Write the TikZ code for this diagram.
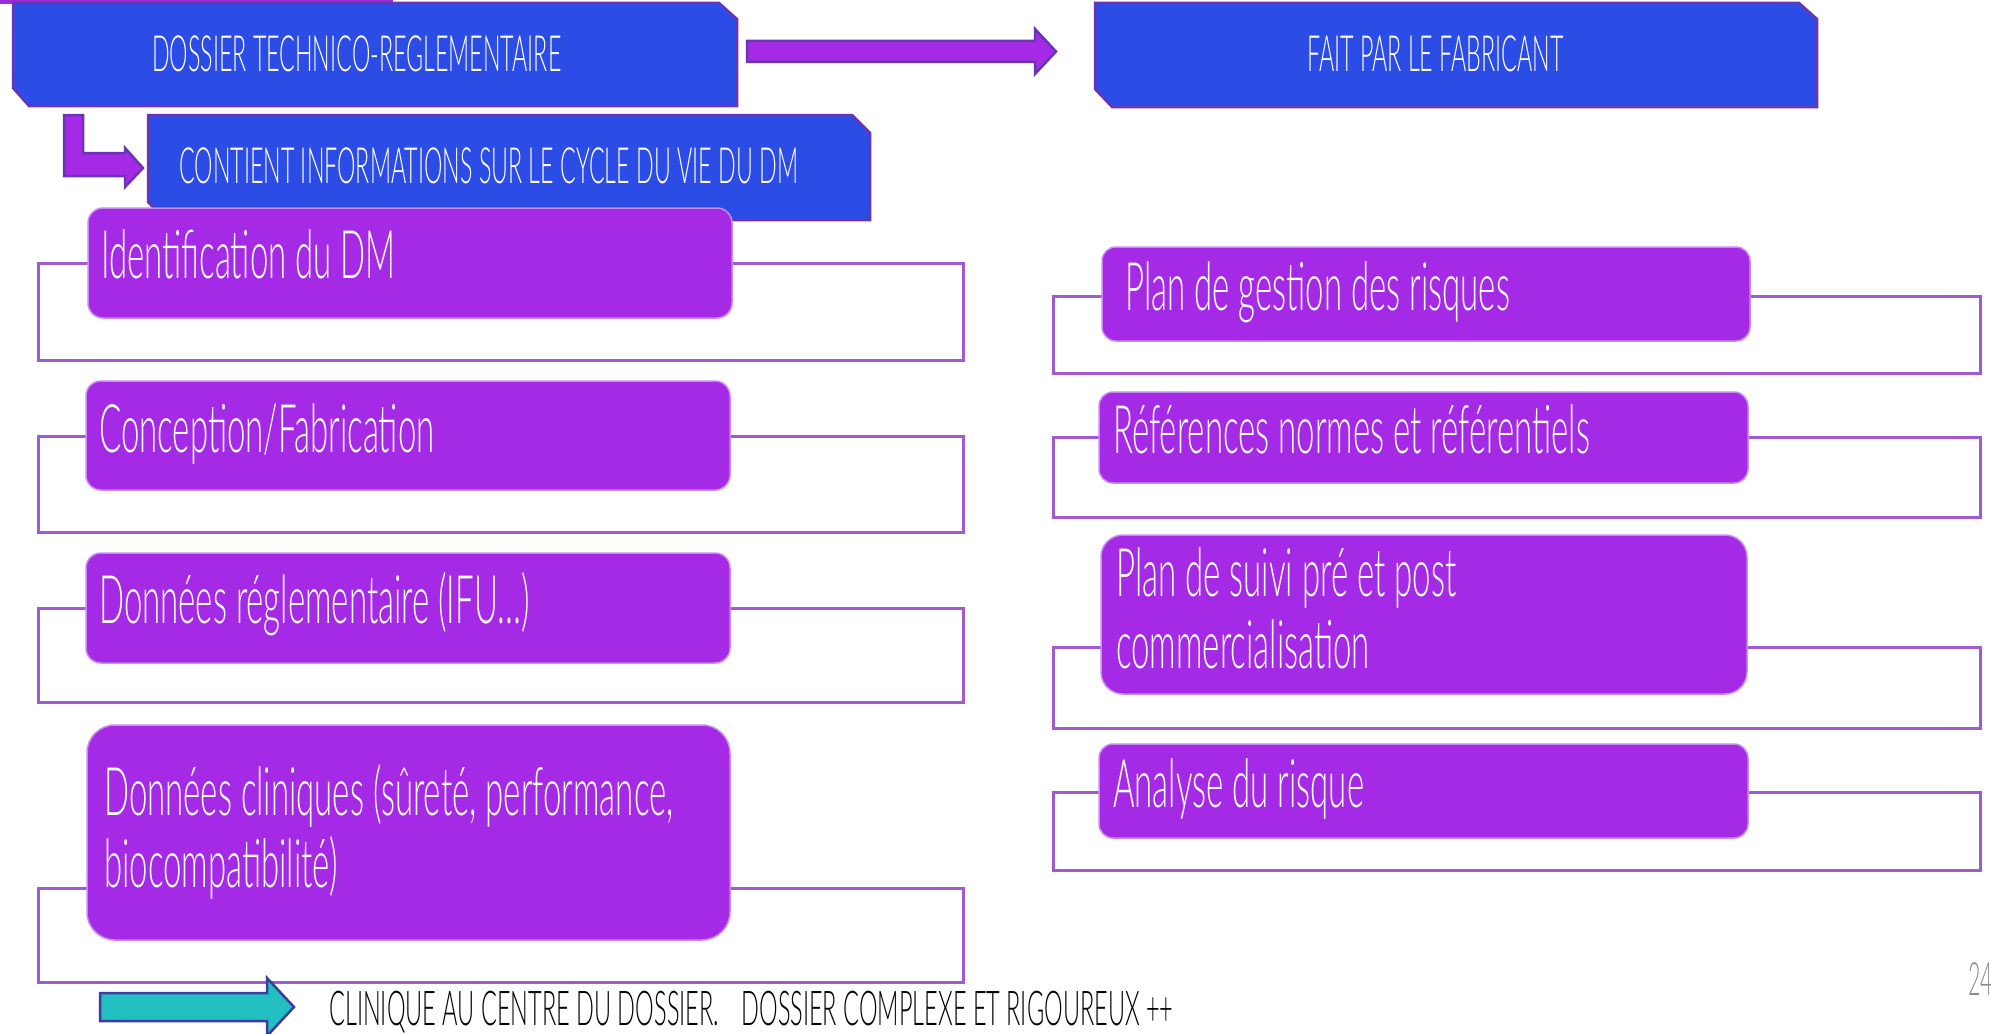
\documentclass[tikz,border=0pt]{standalone}
\usepackage{fontspec}
\setmainfont{Lato}
\newfontfamily\cf{Lato Light}[FakeStretch=0.465]
\newfontfamily\lf{Lato Light}[FakeStretch=0.492]
\newfontfamily\nf{Lato Light}[FakeStretch=0.49]
\definecolor{bfill}{HTML}{2C4CE6}
\definecolor{bdraw}{HTML}{6A34B4}
\definecolor{pfill}{HTML}{A52AE6}
\definecolor{pedge}{HTML}{C98AF2}
\definecolor{oline}{HTML}{A05AD2}
\definecolor{tfill}{HTML}{22BFC0}
\definecolor{tdraw}{HTML}{3A3C9E}
\definecolor{strip}{HTML}{9B2BD6}
\begin{document}
\begin{tikzpicture}[x=1pt,y=-1pt,
  bluebox/.style={fill=bfill, draw=bdraw, line width=2.5pt},
  blockarrow/.style={fill=pfill, draw=bdraw, line width=2.5pt},
  tealarrow/.style={fill=tfill, draw=tdraw, line width=2.5pt},
  pbox/.style={rectangle, fill=pfill, draw=pedge, line width=1.5pt, inner sep=0pt},
  outl/.style={draw=oline, line width=3pt},
  btext/.style={text=white, inner sep=0pt, anchor=base west, font=\cf\fontsize{50}{60}\selectfont},
  wtext/.style={text=white, inner sep=0pt, anchor=base west, align=left, font=\lf\fontsize{67}{72}\selectfont},
]
\useasboundingbox (0,0) rectangle (1991,1033);
\clip (0,0) rectangle (1991,1033);
\fill[white] (0,0) rectangle (1991,1033);

% top strip
\fill[strip] (0,0) rectangle (393,4);

% blue boxes
\draw[bluebox] (13,3) -- (719,3) -- (737,19) -- (737,106) -- (29,106) -- (13,88) -- cycle;
\node[btext] (dossier) at (152,71) {DOSSIER TECHNICO-REGLEMENTAIRE};

\draw[bluebox] (1095,3) -- (1799,3) -- (1817,19) -- (1817,107) -- (1112,107) -- (1095,89) -- cycle;
\node[btext] (fabricant) at (1307,71) {FAIT PAR LE FABRICANT};

% big arrow
\coordinate (a1) at (747,41);
\draw[blockarrow] (a1) -- (1035,41) -- (1035,29) -- (1056,51.5) -- (1035,74) -- (1035,62) -- (747,62) -- cycle;

% L arrow
\coordinate (l1) at (64,115);
\draw[blockarrow] (l1) -- (83,115) -- (83,153) -- (125,153) -- (125,148) -- (143,168) -- (125,187) -- (125,176) -- (64,176) -- cycle;

\draw[bluebox] (148,115) -- (852,115) -- (870,133) -- (870,220) -- (166,220) -- (148,202) -- cycle;
\node[btext] (contient) at (179,183) {CONTIENT INFORMATIONS SUR LE CYCLE DU VIE DU DM};

% outline brackets
\draw[outl] (38,263) rectangle (963,360);
\draw[outl] (38,436) rectangle (963,532);
\draw[outl] (38,608) rectangle (963,702);
\draw[outl] (38,888) rectangle (963,982);
\draw[outl] (1053,296) rectangle (1980,373);
\draw[outl] (1053,437) rectangle (1980,517);
\draw[outl] (1053,647) rectangle (1980,728);
\draw[outl] (1053,792) rectangle (1980,870);

% purple boxes left
\node[pbox, rounded corners=15pt, minimum width=644pt, minimum height=110pt] (ident) at (410,263) {};
\node[pbox, rounded corners=15pt, minimum width=644pt, minimum height=109pt] (concep) at (408,435.5) {};
\node[pbox, rounded corners=15pt, minimum width=644pt, minimum height=110pt] (donreg) at (408,608) {};
\node[pbox, rounded corners=28pt, minimum width=643pt, minimum height=215pt] (doncli) at (408.5,832.5) {};
% purple boxes right
\node[pbox, rounded corners=14pt, minimum width=648pt, minimum height=94pt] (plan) at (1426,294) {};
\node[pbox, rounded corners=14pt, minimum width=649pt, minimum height=91pt] (refs) at (1423.5,437.5) {};
\node[pbox, rounded corners=22pt, minimum width=646pt, minimum height=159pt] (suivi) at (1424,614.5) {};
\node[pbox, rounded corners=14pt, minimum width=649pt, minimum height=94pt] (analyse) at (1423.5,791) {};

% texts
\node[wtext] (tident) at (101,278) {Identification du DM};
\node[wtext] (tconcep) at (99,452) {Conception/Fabrication};
\node[wtext] (tdonreg) at (99,623) {Données réglementaire (IFU…)};
\node[wtext] (tdoncli) at (104,887) {Données cliniques (sûreté, performance,\\biocompatibilité)};
\node[wtext] (tplan) at (1125,310) {Plan de gestion des risques};
\node[wtext] (trefs) at (1113,453) {Références normes et référentiels};
\node[wtext] (tsuivi) at (1116,668) {Plan de suivi pré et post\\commercialisation};
\node[wtext] (tanalyse) at (1113,807) {Analyse du risque};

% bottom arrow and text
\coordinate (t1) at (100,993);
\draw[tealarrow] (t1) -- (267,993) -- (267,978) -- (294,1007) -- (267,1036) -- (267,1021) -- (100,1021) -- cycle;
\node[inner sep=0pt, anchor=base west, text=black, font=\nf\fontsize{48}{54}\selectfont] (clinique) at (329,1025) {CLINIQUE AU CENTRE DU DOSSIER.\hspace{16pt} DOSSIER COMPLEXE ET RIGOUREUX ++};
\node[inner sep=0pt, anchor=base west, text=black!45, font=\cf\fontsize{46}{50}\selectfont] (page) at (1968,995) {24};
\end{tikzpicture}
\end{document}
